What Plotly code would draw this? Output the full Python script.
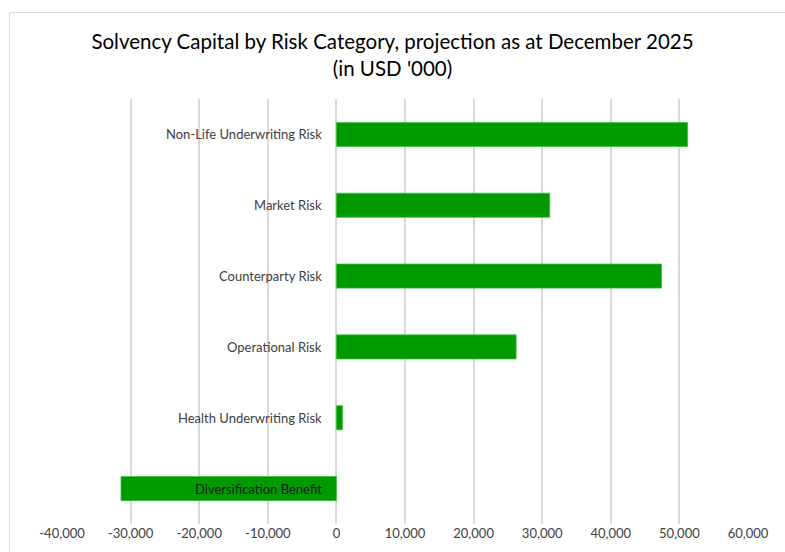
import plotly.graph_objects as go

categories = ["Non-Life Underwriting Risk", "Market Risk", "Counterparty Risk",
              "Operational Risk", "Health Underwriting Risk", "Diversification Benefit"]
values = [51200, 31100, 47400, 26200, 900, -31400]
tick_vals = [-40000, -30000, -20000, -10000, 0, 10000, 20000, 30000, 40000, 50000, 60000]
tick_text = ["-40,000", "-30,000", "-20,000", "-10,000", "0", "10,000", "20,000",
             "30,000", "40,000", "50,000", "60,000"]

FONT = "Lato, Calibri, Carlito, sans-serif"

fig = go.Figure()
fig.add_trace(go.Bar(
    y=categories, x=values, orientation="h",
    marker=dict(color="#009900", line=dict(color="#3cc03c", width=0.8)),
    width=0.34, hoverinfo="x+y",
))

for c, v in zip(categories, values):
    fig.add_annotation(x=0, y=c, xref="x", yref="y", text=c, showarrow=False,
                       xanchor="right", yanchor="middle", xshift=-12,
                       font=dict(family=FONT, size=13,
                                 color="#1a1a1a" if v < 0 else "#404040"))

L, R, T, B = 62, 37, 99, 28
W, H = 785, 552
pw, ph = W - L - R, H - T - B
fig.add_shape(type="rect", xref="paper", yref="paper",
              x0=(9.5 - L) / pw, x1=(W + 10 - L) / pw,
              y0=(H - B - (H + 10)) / ph, y1=(H - B - 12.5) / ph,
              line=dict(color="#d9d9d9", width=1), fillcolor="rgba(0,0,0,0)", layer="below")

fig.update_layout(
    width=W, height=H,
    margin=dict(l=L, r=R, t=T, b=B),
    paper_bgcolor="white", plot_bgcolor="white",
    showlegend=False,
    title=dict(text="Solvency Capital by Risk Category, projection as at December 2025<br>(in USD '000)",
               x=0.5, xanchor="center", y=1 - 49 / H, yanchor="top",
               font=dict(family=FONT, size=20.5, color="#000000")),
    xaxis=dict(range=[-40000, 60000], tickvals=tick_vals, ticktext=tick_text,
               showgrid=True, gridcolor="#d9d9d9", gridwidth=1.5,
               zeroline=True, zerolinecolor="#d9d9d9", zerolinewidth=1.5,
               showline=False, ticks="",
               tickfont=dict(family=FONT, size=13, color="#404040")),
    yaxis=dict(categoryorder="array", categoryarray=categories, autorange="reversed",
               showticklabels=False, showgrid=False, zeroline=False, ticks=""),
)

fig.write_html("out.html")
